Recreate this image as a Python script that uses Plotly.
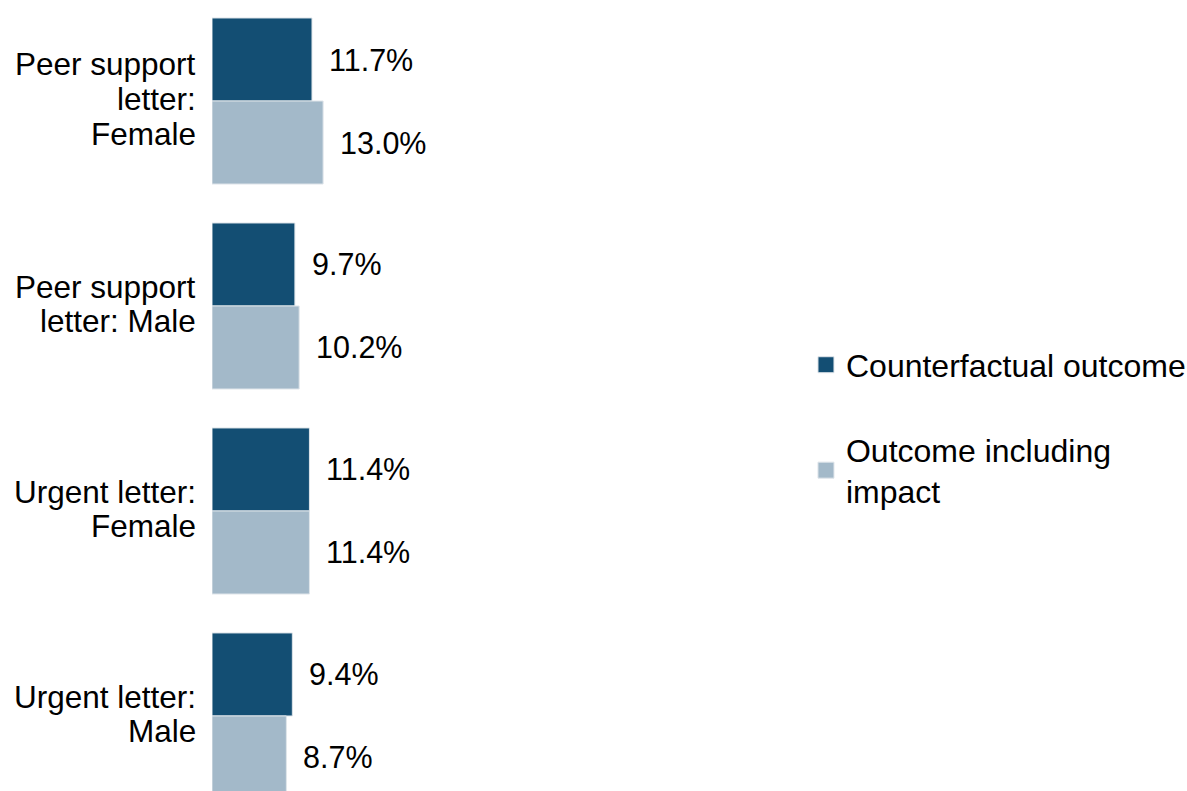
import plotly.graph_objects as go

categories = ["Peer support<br>letter:<br>Female", "Peer support<br>letter: Male",
              "Urgent letter:<br>Female", "Urgent letter:<br>Male"]
counterfactual = [11.7, 9.7, 11.4, 9.4]
with_impact = [13.0, 10.2, 11.4, 8.7]
series_names = ["Counterfactual outcome", "Outcome including<br>impact"]
colors = ["#134e73", "#a3b9c9"]

FONT = "Liberation Sans, Arial, sans-serif"

fig = go.Figure()
for i, (name, vals) in enumerate(zip(series_names, [counterfactual, with_impact])):
    fig.add_trace(go.Bar(
        y=categories, x=vals, orientation="h", name=name,
        marker=dict(color=colors[i], line=dict(color="#dfe5ea", width=1)),
        showlegend=False, hoverinfo="skip",
    ))
# legend entries with larger square symbols
for i, name in enumerate(series_names):
    fig.add_trace(go.Scatter(
        x=[None], y=[None], mode="markers", name=name,
        marker=dict(symbol="square", size=16, color=colors[i],
                    line=dict(color="#dfe5ea", width=1)),
        legendgroup=f"g{i}", hoverinfo="skip",
    ))

annotations = []
for i, vals in enumerate([counterfactual, with_impact]):
    for cat, v in zip(categories, vals):
        annotations.append(dict(
            x=v, y=cat, xref="x", yref="y", text=f"{v:.1f}%",
            showarrow=False, xanchor="left", yanchor="middle",
            xshift=15, yshift=(41.5 if i == 0 else -41.5),
            font=dict(family=FONT, size=30.5, color="#000000"),
        ))

# category labels, one text line each so the line spacing can match
LINE_GAP = 34.7
for cat in categories:
    lines = cat.split("<br>")
    n = len(lines)
    for k, line in enumerate(lines):
        annotations.append(dict(
            x=0, y=cat, xref="x", yref="y", text=line,
            showarrow=False, xanchor="right", yanchor="middle",
            xshift=-14, yshift=-((k - (n - 1) / 2) * LINE_GAP) + 2,
            font=dict(family=FONT, size=31.5, color="#000000"),
        ))

fig.update_layout(
    width=1187, height=791,
    margin=dict(l=212, r=387, t=0, b=0, autoexpand=False),
    paper_bgcolor="white", plot_bgcolor="white",
    barmode="group", bargap=0.19, bargroupgap=0,
    font=dict(family=FONT, size=30, color="#000000"),
    showlegend=True,
    legend=dict(
        xref="container", yref="container",
        x=0.679, xanchor="left", y=0.459, yanchor="middle",
        traceorder="grouped", tracegroupgap=40,
        font=dict(family=FONT, size=32, color="#000000"),
        bgcolor="rgba(0,0,0,0)",
    ),
    annotations=annotations,
)
fig.update_xaxes(range=[0, 68.8], visible=False, showgrid=False, zeroline=False)
fig.update_yaxes(
    autorange=False, range=[3.366, -0.4927],
    showgrid=False, zeroline=False, showline=False, ticks="",
    showticklabels=False,
)

fig.write_html("out.html")
